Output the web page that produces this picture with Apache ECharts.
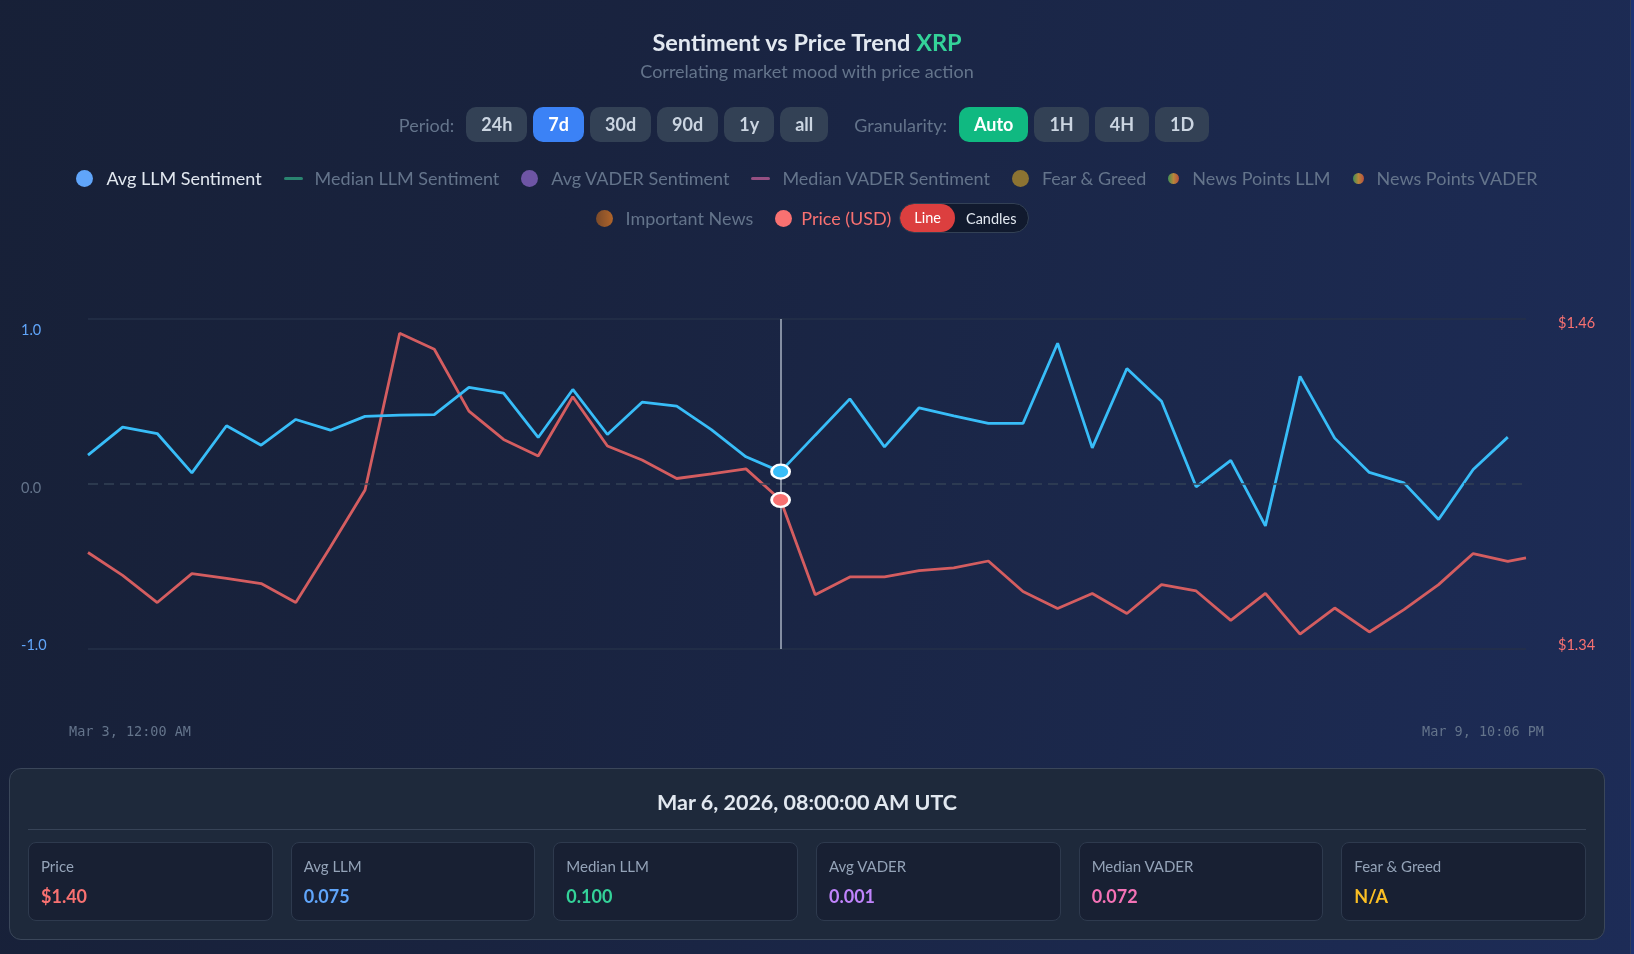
<!DOCTYPE html>
<html>
<head>
<meta charset="utf-8">
<script src="https://cdn.jsdelivr.net/npm/echarts@6/dist/echarts.min.js"></script>
<style>
  html, body { margin:0; padding:0; width:1634px; height:954px; overflow:hidden; background:#1e3272; font-family:'Lato','Noto Sans',sans-serif; }
  #card { position:absolute; left:-20px; top:-20px; width:1649px; height:1000px; border-radius:16px;
          background:linear-gradient(100deg,#172037 0%,#19233f 35%,#1b284c 70%,#1d2c57 100%);
          border:1px solid rgba(100,116,139,0.35); }
  #chart { position:absolute; left:0; top:0; width:1634px; height:954px; }
  .hdr { position:absolute; left:0; width:1614px; text-align:center; }
  #title { top:26px; font-size:23.5px; font-weight:700; color:#e2e8f0; line-height:32px; }
  #title span { color:#34d399; }
  #subtitle { top:59px; font-size:18px; color:#64748b; line-height:24px; }
  #controls { top:107px; height:35px; display:flex; justify-content:center; align-items:center; }
  .lbl { font-size:18px; color:#64748b; margin-right:12px; }
  .btn { height:35px; line-height:35px; padding:0 15px; border-radius:10px; background:#334155; color:#cbd5e1;
         font-size:18px; font-weight:700; margin-right:6px; }
  .btn.blue { background:#3b82f6; color:#fff; }
  .btn.green { background:#10b981; color:#fff; }
  .sep { width:20px; }
  .legend { display:flex; justify-content:center; align-items:center; height:30px; font-size:18px; color:#64748b; }
  .li { display:flex; align-items:center; margin:0 11px; }
  .dot { width:17px; height:17px; border-radius:50%; margin-right:13px; }
  .sdot { width:11px; height:11px; border-radius:50%; margin-right:13px; }
  .dash { width:19px; height:3px; border-radius:2px; margin-right:12px; }
  #leg1 { top:163px; }
  #leg2 { top:203px; }
  .toggle { display:flex; align-items:center; height:28px; border:1px solid #334155; border-radius:15px; background:#111a2e; margin-left:2px; overflow:hidden; }
  .toggle .on { background:#dc3f3f; color:#fff; height:28px; line-height:28px; padding:0 14px; border-radius:15px; font-size:14.5px; }
  .toggle .off { color:#e2e8f0; padding:0 12px 0 11px; font-size:14.5px; }
  #panel { position:absolute; left:9px; top:768px; width:1594px; height:170px; border:1px solid #3b475a; border-radius:12px; background:#1e293b; }
  #ptitle { position:absolute; left:0; top:18px; width:100%; text-align:center; font-size:21.5px; font-weight:700; color:#e2e8f0; line-height:30px; }
  #pdiv { position:absolute; left:18px; right:18px; top:60px; height:1px; background:#374357; }
  #cards { position:absolute; left:18px; top:73px; width:1558px; display:grid; grid-template-columns:repeat(6,1fr); column-gap:18px; }
  .cardv { height:77px; border:1px solid #2e3a4e; border-radius:8px; background:#182033; position:relative; }
  .cardv .k { position:absolute; left:12px; top:14px; font-size:15px; color:#94a3b8; }
  .cardv .v { position:absolute; left:12px; top:42px; font-size:18px; font-weight:700; }
</style>
</head>
<body>
<div id="card"></div>
<div id="chart"></div>

<div class="hdr" id="title">Sentiment vs Price Trend <span>XRP</span></div>
<div class="hdr" id="subtitle">Correlating market mood with price action</div>
<div class="hdr" id="controls">
  <span class="lbl">Period:</span>
  <span class="btn">24h</span><span class="btn blue">7d</span><span class="btn">30d</span><span class="btn">90d</span><span class="btn">1y</span><span class="btn">all</span>
  <span class="sep"></span>
  <span class="lbl">Granularity:</span>
  <span class="btn green">Auto</span><span class="btn">1H</span><span class="btn">4H</span><span class="btn">1D</span>
</div>
<div class="hdr legend" id="leg1">
  <span class="li" style="color:#e2e8f0"><span class="dot" style="background:#60a5fa"></span>Avg LLM Sentiment</span>
  <span class="li"><span class="dash" style="background:#2a8470"></span>Median LLM Sentiment</span>
  <span class="li"><span class="dot" style="background:#6e55a5"></span>Avg VADER Sentiment</span>
  <span class="li"><span class="dash" style="background:#955082"></span>Median VADER Sentiment</span>
  <span class="li"><span class="dot" style="background:#8c7332"></span>Fear &amp; Greed</span>
  <span class="li"><span class="sdot" style="background:linear-gradient(90deg,#3f8f55,#b8863a,#b9503f)"></span>News Points LLM</span>
  <span class="li"><span class="sdot" style="background:linear-gradient(90deg,#3f8f55,#b8863a,#b9503f)"></span>News Points VADER</span>
</div>
<div class="hdr legend" id="leg2">
  <span class="li"><span class="dot" style="background:linear-gradient(90deg,#7a4a2a,#b0652a)"></span>Important News</span>
  <span class="li" style="color:#f87171;margin-right:6px"><span class="dot" style="background:#f87171;margin-right:9px"></span>Price (USD)</span>
  <span class="toggle"><span class="on">Line</span><span class="off">Candles</span></span>
</div>

<div id="panel">
  <div id="ptitle">Mar 6, 2026, 08:00:00 AM UTC</div>
  <div id="pdiv"></div>
  <div id="cards"></div>
</div>

<script>
// ---- data ----
const startTime = Date.UTC(2026, 2, 3, 0, 0);      // Mar 3, 00:00 UTC
const stepHours = 4;                                 // 4H granularity
const lastPriceTime = Date.UTC(2026, 2, 9, 22, 6);   // latest price tick
const hoverIndex = 20;                               // Mar 6, 08:00

const avgLlm = [0.175, 0.345, 0.306, 0.067, 0.353, 0.235, 0.391, 0.326, 0.41, 0.417,
                0.42, 0.585, 0.551, 0.282, 0.573, 0.30, 0.496, 0.472, 0.33, 0.165,
                0.075, 0.296, 0.516, 0.225, 0.462, 0.413, 0.367, 0.367, 0.853, 0.219,
                0.70, 0.502, -0.017, 0.143, -0.254, 0.652, 0.278, 0.07, 0.007, -0.215,
                0.088, 0.284];

const priceUsd = [1.3751, 1.3668, 1.3569, 1.3674, 1.3657, 1.3638, 1.3569, 1.3771, 1.3978, 1.4548,
                  1.449, 1.4265, 1.4162, 1.4102, 1.4317, 1.4138, 1.4087, 1.402, 1.4037, 1.4055,
                  1.3942, 1.3597, 1.3662, 1.3662, 1.3685, 1.3695, 1.372, 1.3609, 1.3547, 1.3602,
                  1.3529, 1.3634, 1.3611, 1.3504, 1.3602, 1.3454, 1.3549, 1.3462, 1.3543, 1.3634,
                  1.3747, 1.3719, 1.3731];

const xTickLabels = ['Mar 3, 12:00 AM', 'Mar 9, 10:06 PM'];
const yTickValues = [-1, 0, 1];
const yTickLabels = ['-1.0', '0.0', '1.0'];
const priceRange = [1.34, 1.46];
const priceTickLabels = ['$1.34', '$1.46'];

const readoutLabels = ['Price', 'Avg LLM', 'Median LLM', 'Avg VADER', 'Median VADER', 'Fear & Greed'];
const readoutValues = ['$1.40', '0.075', '0.100', '0.001', '0.072', 'N/A'];
const readoutColors = ['#f87171', '#60a5fa', '#34d399', '#c084fc', '#f472b6', '#fbbf24'];

// ---- readout cards ----
const cardsEl = document.getElementById('cards');
readoutLabels.forEach((k, i) => {
  const d = document.createElement('div');
  d.className = 'cardv';
  d.innerHTML = '<span class="k"></span><span class="v"></span>';
  d.querySelector('.k').textContent = k;
  const v = d.querySelector('.v');
  v.textContent = readoutValues[i];
  v.style.color = readoutColors[i];
  cardsEl.appendChild(d);
});

// ---- chart ----
const sentTimes = avgLlm.map((_, i) => startTime + i * stepHours * 3600 * 1000);
const priceTimes = sentTimes.concat([lastPriceTime]);
const llmData = avgLlm.map((v, i) => [sentTimes[i], v]);
const priceData = priceUsd.map((v, i) => [priceTimes[i], v]);
const hoverTime = sentTimes[hoverIndex];

const chart = echarts.init(document.getElementById('chart'), null, { renderer: 'canvas' });
const labelFont = 'Lato';

chart.setOption({
  animation: false,
  useUTC: true,
  backgroundColor: 'transparent',
  grid: [
    { left: 88, right: 108, top: 319, height: 330 },
    { left: 130, right: 151, top: 649, height: 1 }
  ],
  xAxis: [
    { type: 'time', gridIndex: 0, min: startTime, max: lastPriceTime,
      axisLine: { show: false }, axisTick: { show: false }, axisLabel: { show: false }, splitLine: { show: false } },
    // range-end label axis: 0 = first timestamp, 1 = last timestamp
    { type: 'value', gridIndex: 1, min: 0, max: 1, interval: 1,
      axisLine: { show: false }, axisTick: { show: false }, splitLine: { show: false },
      axisLabel: {
        formatter: (v) => xTickLabels[Math.round(v)],
        color: '#64748b', fontFamily: 'DejaVu Sans Mono', fontSize: 13.5, margin: 75
      } }
  ],
  yAxis: [
    { type: 'value', gridIndex: 0, min: -1, max: 1, interval: 1, position: 'left',
      axisLine: { show: false }, axisTick: { show: false },
      splitLine: { show: true, lineStyle: { color: ['#253149', 'rgba(0,0,0,0)', '#253149'], width: 1.5 } },
      axisLabel: {
        align: 'left', margin: 67,
        formatter: (v) => {
          const i = yTickValues.indexOf(v);
          const s = v > 0 ? 'top' : (v < 0 ? 'bot' : 'mid');
          return '{' + s + '|' + yTickLabels[i] + '}';
        },
        rich: {
          top: { color: '#60a5fa', fontSize: 14.5, fontFamily: labelFont, padding: [22, 0, 0, 0] },
          mid: { color: '#64748b', fontSize: 14.5, fontFamily: labelFont, padding: [8, 0, 0, 0] },
          bot: { color: '#60a5fa', fontSize: 14.5, fontFamily: labelFont, padding: [0, 0, 8, 0] }
        }
      } },
    { type: 'value', gridIndex: 0, min: priceRange[0], max: priceRange[1], interval: 0.02, position: 'right',
      axisLine: { show: false }, axisTick: { show: false }, splitLine: { show: false },
      axisLabel: {
        margin: 32,
        formatter: (v) => {
          if (Math.abs(v - priceRange[0]) < 1e-6) return '{bot|' + priceTickLabels[0] + '}';
          if (Math.abs(v - priceRange[1]) < 1e-6) return '{top|' + priceTickLabels[1] + '}';
          return '';
        },
        rich: {
          top: { color: '#f87171', fontSize: 14.5, fontFamily: labelFont, padding: [8, 0, 0, 0] },
          bot: { color: '#f87171', fontSize: 14.5, fontFamily: labelFont, padding: [0, 0, 8, 0] }
        }
      } },
    { type: 'value', gridIndex: 1, show: false, min: 0, max: 1 }
  ],
  series: [
    {
      name: 'Avg LLM Sentiment', type: 'line', xAxisIndex: 0, yAxisIndex: 0,
      data: llmData, showSymbol: false, z: 3,
      color: '#38bdf8', lineStyle: { color: '#38bdf8', width: 2.8 },
      markLine: {
        silent: true, symbol: ['none', 'none'], label: { show: false }, animation: false,
        data: [
          { yAxis: 0, lineStyle: { color: '#334155', type: [10, 6], width: 1.5 } },
          { xAxis: hoverTime, lineStyle: { color: 'rgba(203,213,225,0.6)', type: 'solid', width: 2 } }
        ]
      },
      markPoint: {
        silent: true, symbol: 'circle', symbolSize: [18, 14], label: { show: false },
        itemStyle: { color: '#38bdf8', borderColor: '#ffffff', borderWidth: 2.5 },
        data: [{ coord: [hoverTime, avgLlm[hoverIndex]] }]
      }
    },
    {
      name: 'Price (USD)', type: 'line', xAxisIndex: 0, yAxisIndex: 1,
      data: priceData, showSymbol: false, z: 2,
      color: '#d45d60', lineStyle: { color: '#d45d60', width: 2.8 },
      markPoint: {
        silent: true, symbol: 'circle', symbolSize: [18, 14], label: { show: false },
        itemStyle: { color: '#f87171', borderColor: '#ffffff', borderWidth: 2.5 },
        data: [{ coord: [hoverTime, priceUsd[hoverIndex]] }]
      }
    }
  ]
});
</script>
</body>
</html>
